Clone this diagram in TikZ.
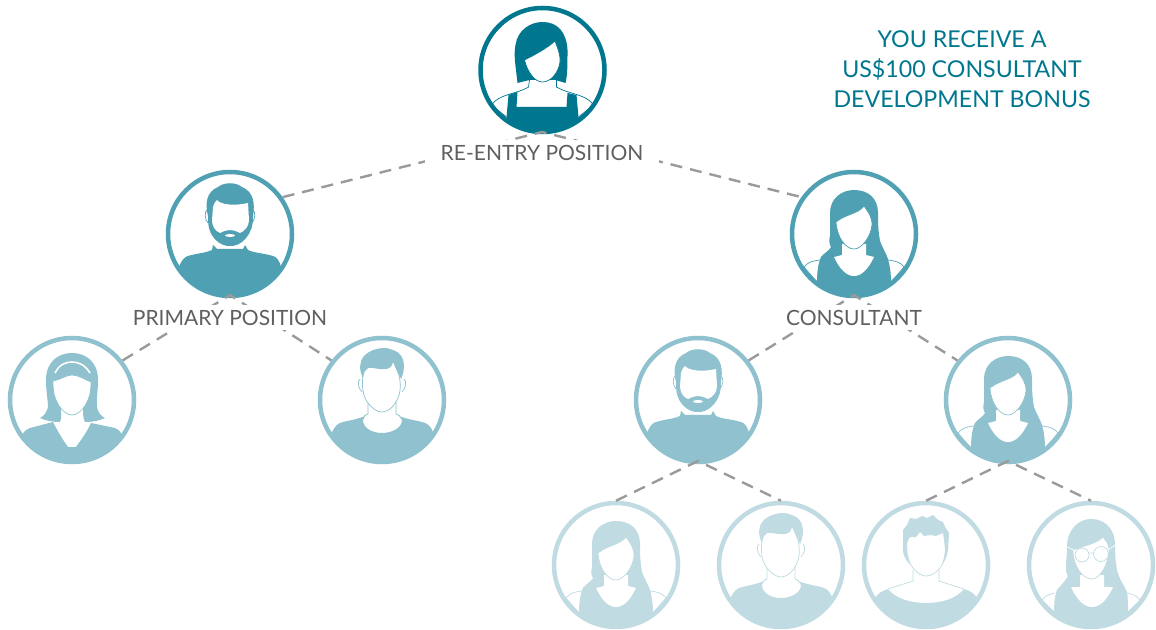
\documentclass[tikz,border=0pt]{standalone}
\usepackage{fontspec}
\setmainfont{Lato}
\definecolor{tealtop}{HTML}{00778F}
\definecolor{tealtwo}{HTML}{4EA0B2}
\definecolor{tealthree}{HTML}{8FC2CE}
\definecolor{tealfour}{HTML}{C1DBE2}
\definecolor{linegrey}{HTML}{9A9A9A}
\definecolor{labelgrey}{HTML}{5F5F5F}
\tikzset{
	person/.style={circle,draw=#1,line width=2.25pt,fill=white,minimum size=62pt,inner sep=0pt},
	skin/.style={fill=white,draw=#1,line width=.35pt},
	outline/.style={draw=#1,line width=.35pt},
	link/.style={draw=linegrey,line width=1.2pt,dash pattern=on 6pt off 4pt},
	rank/.style={fill=white,text=labelgrey,font=\fontsize{10.5}{12}\selectfont,inner xsep=8pt,inner ysep=0pt,minimum height=12.5pt},
	pics/bobhair/.style={code={
		\begin{scope}
		\clip (0,0) circle[radius=62];
		\fill[#1] (-34,25) -- (-36,47) -- (-36,70) -- (36,70) -- (36,47) -- (34,25) -- (25,23) -- (24,37) -- (-26,37) -- (-25,22) -- cycle;
		\draw[outline=#1] (-13,10) -- (-14,17) .. controls (-25,24) and (-44,24) .. (-51,35) -- (-36,47);
		\draw[outline=#1] (14,10) -- (14,17) .. controls (25,24) and (44,24) .. (51,35) -- (36,47);
		\fill[#1] (-25,13) .. controls (-27,-5) and (-29,-15) .. (-27,-25) .. controls (-25,-40) and (-12,-48) .. (0,-48) .. controls (15,-48) and (24,-38) .. (25,-20) .. controls (25,-5) and (25,5) .. (23,13) -- (13,10) -- (-13,10) -- cycle;
		\path[skin=#1] (-18,-10) .. controls (-8,-15) and (5,-22) .. (12.5,-29) .. controls (15,-22) and (18,-16) .. (17.5,-8) .. controls (16,3) and (8,12) .. (0,12) .. controls (-8,12) and (-15,2) .. (-18,-10) -- cycle;
		\end{scope}
	}},
	pics/beardman/.style={code={
		\begin{scope}
		\clip (0,0) circle[radius=62];
		\fill[#1] (-51,33) .. controls (-48,25) and (-45,23) .. (-42,22) .. controls (-32,19) and (-24,19) .. (-18,16) -- (-17,11) -- (-13,15) -- (13,15) -- (15,11) -- (18,16) .. controls (24,19) and (33,19) .. (43,22) .. controls (46,23) and (49,25) .. (51,33) -- (51,70) -- (-51,70) -- cycle;
		\draw[outline=#1] (-23,-24) .. controls (-26,-22) and (-25,-14) .. (-22,-11);
		\draw[outline=#1] (23,-24) .. controls (26,-22) and (25,-14) .. (22,-11);
		\fill[#1] (-22,-18) .. controls (-25,-30) and (-24,-42) .. (-12,-47) .. controls (-6,-52) and (6,-52) .. (12,-47) .. controls (24,-42) and (25,-30) .. (23,-18) .. controls (23,-8) and (21,-2) .. (16,4) .. controls (10,11) and (5,12) .. (0,12) .. controls (-5,12) and (-10,11) .. (-16,4) .. controls (-21,-2) and (-22,-8) .. (-22,-18) -- cycle;
		\fill[white] (-17,-27) .. controls (-16,-31) and (-14,-33) .. (-13,-34) .. controls (-9,-29) and (5,-28) .. (18,-31) -- (19,-14) .. controls (19,-8) and (15,-3) .. (10,-1) .. controls (6,-3) and (3,-4) .. (0,-4) .. controls (-3,-4) and (-6,-3) .. (-10,-1) .. controls (-15,-3) and (-18,-8) .. (-18,-14) -- cycle;
		\fill[white] (0,1.5) ellipse[x radius=5,y radius=1.5];
		\end{scope}
	}},
	pics/longhair/.style={code={
		\begin{scope}
		\clip (0,0) circle[radius=62];
		\draw[outline=#1] (-37,48) -- (-50,33) .. controls (-46,28) and (-42,27) .. (-34,26);
		\draw[outline=#1] (37,48) -- (50,33) .. controls (46,28) and (42,27) .. (34,26);
		\fill[#1] (-37,49) .. controls (-37,38) and (-36,30) .. (-33,23) .. controls (-30,19) and (-25,17) .. (-23,13) .. controls (-25,10) and (-25,6) .. (-24,2) .. controls (-24,-6) and (-24,-12) .. (-24,-21) .. controls (-24,-36) and (-12,-44) .. (0,-44) .. controls (14,-44) and (24,-36) .. (24,-21) .. controls (24,-12) and (24,-4) .. (26,7) .. controls (28,13) and (32,19) .. (34,25) .. controls (36,32) and (37,40) .. (37,48) -- (37,70) -- (-37,70) -- cycle;
		\fill[white] (-12,10) -- (-12,21) -- (-20,23) .. controls (-14,36) and (-7,42) .. (0,42) .. controls (7,42) and (14,36) .. (20,23) -- (12,21) -- (12,10) -- cycle;
		\path[skin=#1] (-18,-12) .. controls (-8,-20) and (4,-20) .. (10,-28) .. controls (14,-22) and (18,-18) .. (18,-9) .. controls (17,2) and (8,15) .. (0,15) .. controls (-8,15) and (-17,4) .. (-18,-12) -- cycle;
		\end{scope}
	}},
	pics/hairband/.style={code={
		\begin{scope}
		\clip (0,0) circle[radius=62];
		\fill[#1] (-50,35) .. controls (-47,30) and (-45,29) .. (-42,28) -- (-19,22) -- (-18,24) .. controls (-14,32) and (-9,40) .. (-4,47) -- (4,47) .. controls (9,40) and (15,32) .. (19,23) -- (43,28) .. controls (46,29) and (48,31) .. (50,35) -- (50,70) -- (-50,70) -- cycle;
		\fill[#1] (-26,-20) .. controls (-26,-38) and (-14,-47) .. (0,-47) .. controls (14,-47) and (26,-38) .. (26,-20) .. controls (26,-8) and (24,0) .. (25,7) .. controls (26,13) and (29,16) .. (33,18) .. controls (27,21) and (20,22) .. (13,22) .. controls (11,18) and (11,14) .. (11,8) -- (-11,8) .. controls (-11,14) and (-10,18) .. (-12,22) .. controls (-18,22) and (-26,21) .. (-32,18) .. controls (-28,16) and (-25,12) .. (-24,7) .. controls (-24,0) and (-26,-8) .. (-26,-20) -- cycle;
		\draw[white,line width=.8pt] (-17,-27) .. controls (-13,-35) and (-7,-38) .. (0,-38) .. controls (7,-38) and (13,-35) .. (18,-27);
		\path[skin=#1] (-19,-19) .. controls (-12,-20) and (-6,-25) .. (0,-25) .. controls (7,-25) and (13,-20) .. (19,-18) .. controls (19,-6) and (17,-2) .. (14,4) .. controls (10,11) and (5,15) .. (0,15) .. controls (-5,15) and (-10,11) .. (-14,4) .. controls (-17,-2) and (-19,-6) .. (-19,-19) -- cycle;
		\end{scope}
	}},
	pics/shorthair/.style={code={
		\begin{scope}
		\clip (0,0) circle[radius=62];
		\fill[#1] (-50,32) .. controls (-47,26) and (-44,23) .. (-39,22) .. controls (-30,20) and (-24,19) .. (-17,16) -- (-19,20) .. controls (-19,28) and (-10,33) .. (0,33) .. controls (10,33) and (20,28) .. (20,20) -- (17,16) .. controls (24,19) and (32,20) .. (40,22) .. controls (45,23) and (49,26) .. (51,32) -- (51,70) -- (-50,70) -- cycle;
		\draw[outline=#1] (-14,2) -- (-14,14) -- (-18,16);
		\draw[outline=#1] (14,2) -- (14,14) -- (18,16);
		\draw[outline=#1] (-22,-21) .. controls (-25,-19) and (-24,-12) .. (-20,-8);
		\draw[outline=#1] (22,-21) .. controls (25,-19) and (24,-12) .. (20,-8);
		\path[skin=#1] (-19,-27) .. controls (-20,-15) and (-20,-8) .. (-16,0) .. controls (-11,8) and (-5,12) .. (0,12) .. controls (5,12) and (11,8) .. (15,0) .. controls (19,-8) and (19,-15) .. (17,-25) -- (11,-40) -- (-14,-36) -- cycle;
		\fill[#1] (-19,-22) .. controls (-23,-30) and (-23,-38) .. (-18,-44) .. controls (-12,-50) and (-5,-52) .. (3,-52) .. controls (7,-52) and (9,-50) .. (11,-50) .. controls (18,-48) and (22,-42) .. (22,-33) .. controls (22,-29) and (21,-26) .. (19,-21) -- (17,-25) .. controls (15,-29) and (13,-34) .. (11,-38) .. controls (10,-33) and (7,-31) .. (3,-31) .. controls (-3,-30) and (-9,-33) .. (-14,-32) .. controls (-17,-30) and (-18,-28) .. (-19,-22) -- cycle;
		\end{scope}
	}},
	pics/spikyhair/.style={code={
		\begin{scope}
		\clip (0,0) circle[radius=62];
		\fill[#1] (-51,33) .. controls (-48,28) and (-44,26) .. (-38,24) .. controls (-30,34) and (-15,38) .. (0,38) .. controls (15,38) and (30,34) .. (38,24) .. controls (44,26) and (48,28) .. (51,33) -- (51,70) -- (-51,70) -- cycle;
		\draw[outline=#1] (-13,5) -- (-13,16) -- (-38,24);
		\draw[outline=#1] (13,5) -- (13,16) -- (38,24);
		\path[skin=#1] (-19,-25) .. controls (-20,-12) and (-18,-4) .. (-13,3) .. controls (-8,9) and (-4,11) .. (0,11) .. controls (5,11) and (10,8) .. (14,3) .. controls (19,-4) and (20,-12) .. (19,-25) -- (17,-36) -- (-17,-36) -- cycle;
		\fill[#1] (-16,0) .. controls (-21,-6) and (-24,-12) .. (-23,-18) -- (-23,-35) -- (-19,-40) -- (-16,-47) -- (-10,-46) -- (-4,-49) -- (1,-47) -- (7,-50) -- (12,-45) -- (17,-43) -- (19,-38) -- (23,-32) -- (22,-15) .. controls (21,-9) and (19,-4) .. (16,0) .. controls (18,-6) and (20,-12) .. (19,-18) -- (17,-32) -- (10,-29) -- (4,-30) -- (-2,-29) -- (-6,-33) -- (-10,-28) -- (-16,-28) .. controls (-19,-24) and (-20,-20) .. (-19,-15) .. controls (-19,-10) and (-18,-5) .. (-16,0) -- cycle;
		\end{scope}
	}},
	pics/glasseswoman/.style={code={
		\begin{scope}
		\clip (0,0) circle[radius=62];
		\draw[outline=#1] (-37,47) -- (-49,35) .. controls (-46,31) and (-42,29) .. (-36,28);
		\draw[outline=#1] (37,47) -- (49,35) .. controls (46,31) and (42,29) .. (36,28);
		\fill[#1] (-37,47) .. controls (-37,38) and (-36,30) .. (-34,25) .. controls (-30,20) and (-25,15) .. (-23,11) .. controls (-25,8) and (-25,5) .. (-25,3) .. controls (-25,-6) and (-24,-10) .. (-24,-18) .. controls (-24,-36) and (-12,-46) .. (0,-46) .. controls (14,-46) and (24,-36) .. (24,-20) .. controls (24,-8) and (25,0) .. (26,5) .. controls (28,14) and (33,20) .. (36,27) .. controls (37,33) and (37,40) .. (37,47) -- (37,70) -- (-37,70) -- cycle;
		\fill[white] (-11,10) -- (-11,22) -- (-20,22) .. controls (-14,35) and (-7,42) .. (1,42) .. controls (9,42) and (16,35) .. (22,22) -- (13,22) -- (13,10) -- cycle;
		\path[skin=#1] (-18,-15) .. controls (-8,-19) and (5,-21) .. (12,-28) .. controls (15,-24) and (18,-21) .. (18,-15) .. controls (18,-2) and (9,14) .. (1,14) .. controls (-8,14) and (-18,2) .. (-18,-15) -- cycle;
		\draw[outline=#1] (-9,-10) circle[radius=7] (10,-11) circle[radius=7.5] (-2,-12) -- (2.5,-12);
		\draw[white,line width=.35pt] (-15.5,-14) -- (-24,-18) (17,-15) -- (24,-20);
		\end{scope}
	}}
}
\begin{document}
\begin{tikzpicture}[x=.5pt,y=-.5pt]
	\useasboundingbox (0,0) rectangle (1156,630);

	\node[person=tealtop] (reentry) at (542.5,70) {};
	\pic at (reentry) {bobhair=tealtop};

	\node[person=tealtwo] (primary) at (230,234) {};
	\pic at (primary) {beardman=tealtwo};
	\node[person=tealtwo] (consultant) at (854,234) {};
	\pic at (consultant) {longhair=tealtwo};

	\node[person=tealthree] (a) at (72,400) {};
	\pic at (a) {hairband=tealthree};
	\node[person=tealthree] (b) at (382,400) {};
	\pic at (b) {shorthair=tealthree};
	\node[person=tealthree] (c) at (698,400) {};
	\pic at (c) {beardman=tealthree};
	\node[person=tealthree] (d) at (1008,400) {};
	\pic at (d) {longhair=tealthree};

	\node[person=tealfour] (e) at (616,565) {};
	\pic at (e) {longhair=tealfour};
	\node[person=tealfour] (f) at (781,565) {};
	\pic at (f) {shorthair=tealfour};
	\node[person=tealfour] (g) at (926,565) {};
	\pic at (g) {spikyhair=tealfour};
	\node[person=tealfour] (h) at (1091,565) {};
	\pic at (h) {glasseswoman=tealfour};

	\coordinate (forkr) at (542,132);
	\coordinate (forkp) at (230,295);
	\coordinate (forkq) at (854,295);
	\coordinate (forkc) at (698,461);
	\coordinate (forkd) at (1008,461);

	\draw[link] (primary.35) -- (forkr) -- (consultant.145);
	\draw[link] (a.38) -- (forkp) -- (b.142);
	\draw[link] (c.38) -- (forkq) -- (d.142);
	\draw[link] (e.90) -- (forkc) -- (f.90);
	\draw[link] (g.90) -- (forkd) -- (h.90);

	\node[rank] (reentrylabel) at (542,153) {RE-ENTRY POSITION};
	\node[rank] (primarylabel) at (230,318) {PRIMARY POSITION};
	\node[rank] (consultantlabel) at (854,318) {CONSULTANT};

	\node[text=tealtop,align=center,font=\fontsize{11.6}{15}\selectfont] (bonus) at (962,69) {YOU RECEIVE A\\US\$100 CONSULTANT\\DEVELOPMENT BONUS};
\end{tikzpicture}
\end{document}
